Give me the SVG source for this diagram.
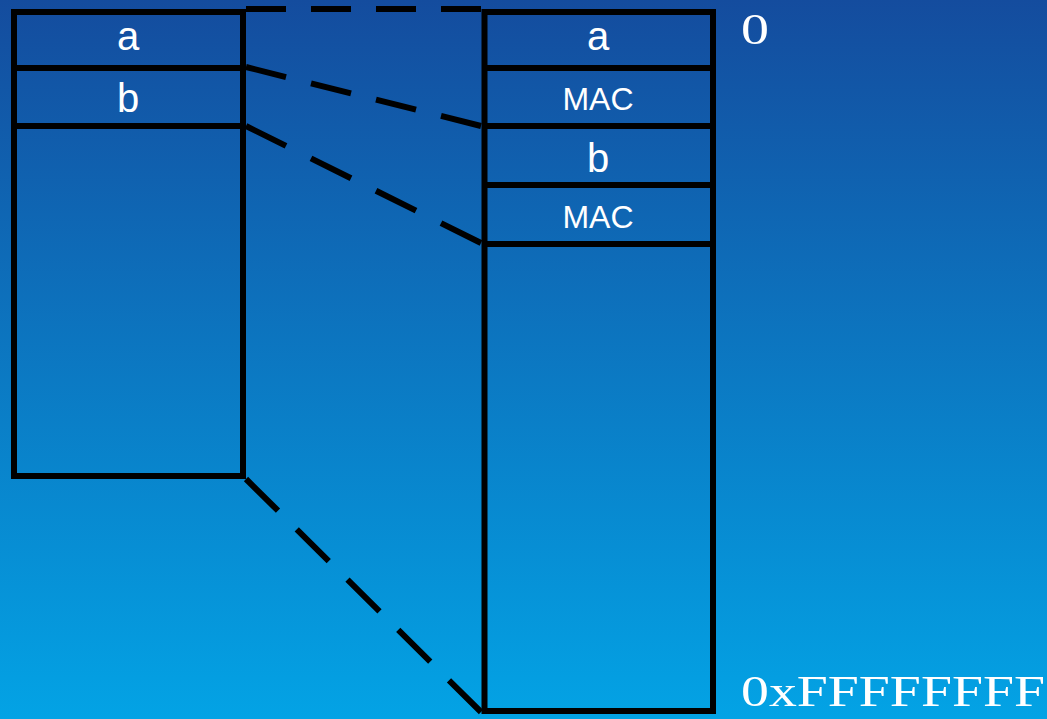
<svg xmlns="http://www.w3.org/2000/svg" width="1047" height="719" viewBox="0 0 1047 719">
  <defs>
    <linearGradient id="bg" x1="0" y1="0" x2="0" y2="1">
      <stop offset="0" stop-color="#144c9e"/>
      <stop offset="1" stop-color="#03a3e5"/>
    </linearGradient>
    <style>
      .box { fill: none; stroke: #000; stroke-width: 6; }
      .div { stroke: #000; stroke-width: 6; }
      .dash { stroke: #000; stroke-width: 6; fill: none; stroke-dasharray: 40 25; }
      .dash.long { stroke-dasharray: 32 18.75; }
      .lbl { font-family: "Liberation Sans", Arial, sans-serif; fill: #fff; text-anchor: middle; }
      .big { font-size: 40px; }
      .small { font-size: 32px; }
      .addr { font-family: "Liberation Serif", "Times New Roman", serif; fill: #fff; font-size: 44px; }
    </style>
  </defs>

  <rect width="1047" height="719" fill="url(#bg)"/>

  <!-- connectors: dashed mapping lines between the two memory layouts -->
  <g id="connectors">
    <line class="dash" pathLength="235" x1="246" y1="9" x2="481" y2="9"/>
    <line class="dash" pathLength="235" x1="246" y1="67" x2="481" y2="126"/>
    <line class="dash" pathLength="235" x1="246" y1="126" x2="481" y2="243"/>
    <line class="dash long" pathLength="235" x1="246" y1="479" x2="481" y2="712"/>
  </g>

  <!-- plain layout -->
  <g id="left-memory">
    <rect class="box" x="14" y="12" width="229" height="464"/>
    <line class="div" x1="14" y1="68" x2="243" y2="68"/>
    <line class="div" x1="14" y1="126" x2="243" y2="126"/>
  </g>
  <g id="left-a"><text class="lbl big" x="128" y="50">a</text></g>
  <g id="left-b"><text class="lbl big" x="128" y="112">b</text></g>

  <!-- layout with MACs interleaved -->
  <g id="right-memory">
    <rect class="box" x="484.5" y="12" width="228.5" height="699"/>
    <line class="div" x1="484.5" y1="68" x2="713" y2="68"/>
    <line class="div" x1="484.5" y1="126" x2="713" y2="126"/>
    <line class="div" x1="484.5" y1="185" x2="713" y2="185"/>
    <line class="div" x1="484.5" y1="244" x2="713" y2="244"/>
  </g>
  <g id="right-a"><text class="lbl big" x="598" y="50">a</text></g>
  <g id="right-mac1"><text class="lbl small" x="598" y="110">MAC</text></g>
  <g id="right-b"><text class="lbl big" x="598" y="172">b</text></g>
  <g id="right-mac2"><text class="lbl small" x="598" y="228">MAC</text></g>

  <!-- address labels -->
  <g id="addr-low"><text class="addr" x="741" y="44" textLength="28" lengthAdjust="spacingAndGlyphs">0</text></g>
  <g id="addr-high"><text class="addr" x="741" y="706" textLength="304" lengthAdjust="spacingAndGlyphs">0xFFFFFFFF</text></g>
</svg>
